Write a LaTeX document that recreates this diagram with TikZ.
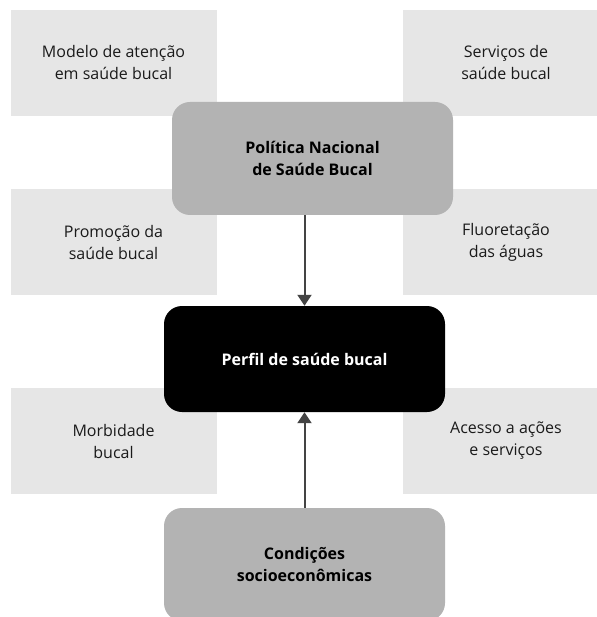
\documentclass[tikz,border=0pt]{standalone}
\usepackage{fontspec}
\setmainfont{Open Sans}
\usetikzlibrary{arrows.meta}
\definecolor{lightbox}{HTML}{E6E6E6}
\definecolor{midbox}{HTML}{B3B3B3}
\definecolor{txt}{HTML}{1A1A1A}
\definecolor{arrowc}{HTML}{444444}
\tikzset{
  factor/.style={fill=lightbox, minimum width=206pt, minimum height=106pt, inner sep=0pt,
    text=txt, align=center, font=\fontsize{16}{22}\selectfont},
  mainbox/.style={fill=midbox, rounded corners=18pt, minimum width=281pt, inner sep=0pt,
    text=black, align=center, font=\fontsize{16}{22}\selectfont\bfseries},
  centerbox/.style={fill=black, rounded corners=18pt, minimum width=281pt, minimum height=106pt, inner sep=0pt,
    text=white, align=center, font=\fontsize{16}{22}\selectfont\bfseries},
  link/.style={draw=arrowc, line width=2pt, -{Triangle[width=14pt,length=11pt]}}
}
\begin{document}
\begin{tikzpicture}[x=1pt,y=-1pt]
\useasboundingbox[fill=white] (0,0) rectangle (596,617);
\node[factor] (modelo) at (113.5,63) {Modelo de atenção\\em saúde bucal};
\node[factor] (servicos) at (506,63) {Serviços de\\saúde bucal};
\node[factor] (promocao) at (113.5,242) {Promoção da\\saúde bucal};
\node[factor] (fluor) at (506,242) {Fluoretação\\das águas};
\node[factor] (morb) at (113.5,441) {Morbidade\\bucal};
\node[factor] (acesso) at (506,441) {Acesso a ações\\e serviços};
\node[mainbox, minimum height=113pt] (pol) at (312.5,158.5) {Política Nacional\\de Saúde Bucal};
\node[centerbox] (perfil) at (304.5,359) {Perfil de saúde bucal};
\node[mainbox, minimum height=113pt] (cond) at (304.5,564.5) {Condições\\socioeconômicas};
\draw[link] (perfil.north |- pol.south) -- (perfil.north);
\draw[link] (cond.north) -- (perfil.south);
\end{tikzpicture}
\end{document}
